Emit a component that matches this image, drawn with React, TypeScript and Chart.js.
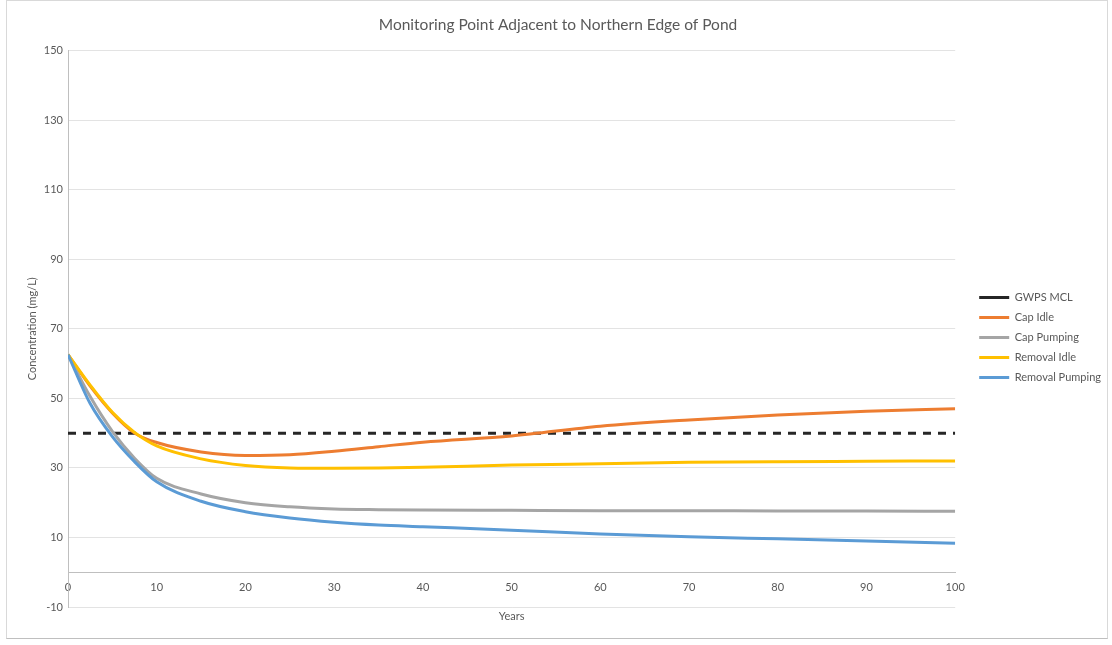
import React, { useEffect, useRef } from "react";
import { Chart, registerables } from "chart.js";

Chart.register(...registerables);

const chartTitle = "Monitoring Point Adjacent to Northern Edge of Pond";
const xTitle = "Years";
const yTitle = "Concentration (mg/L)";

const years = [0, 2.5, 5, 7.5, 10, 15, 20, 25, 30, 35, 40, 50, 60, 70, 80, 90, 100];
const capIdle = [62.6, 53.5, 45.8, 40.0, 37.3, 34.6, 33.6, 33.8, 34.8, 36.1, 37.4, 39.2, 42.0, 43.8, 45.2, 46.3, 47.0];
const capPumping = [62.6, 50.5, 40.5, 32.8, 27.0, 22.5, 20.0, 18.8, 18.2, 18.0, 17.9, 17.8, 17.7, 17.7, 17.6, 17.6, 17.5];
const removalIdle = [62.6, 53.8, 46.0, 40.2, 36.3, 32.6, 30.7, 30.0, 29.9, 30.0, 30.2, 30.8, 31.2, 31.6, 31.8, 31.9, 32.0];
const removalPumping = [62.6, 48.5, 39.0, 31.8, 26.0, 20.4, 17.4, 15.6, 14.4, 13.6, 13.1, 12.1, 11.0, 10.2, 9.6, 9.0, 8.3];
const mclYears = [0, 100];
const mclValues = [40, 40];

const seriesNames = ["GWPS MCL", "Cap Idle", "Cap Pumping", "Removal Idle", "Removal Pumping"];
const seriesColors = ["#262626", "#ED7D31", "#A5A5A5", "#FFC000", "#5B9BD5"];

const toPoints = (xs: number[], ys: number[]) => xs.map((x, i) => ({ x, y: ys[i] }));

const legendShift = {
  id: "legendShift",
  afterLayout(chart: any) {
    const l = chart.legend;
    if (l) {
      l.left += 15;
      l.right += 15;
      l.top += 30;
      l.bottom += 30;
    }
  },
};

export default function App() {
  const ref = useRef<HTMLCanvasElement | null>(null);

  useEffect(() => {
    document.body.style.margin = "0";
    const canvas = ref.current;
    if (!canvas) return;
    const font = "Lato, 'Open Sans', sans-serif";
    const lineSeries = [capIdle, capPumping, removalIdle, removalPumping];
    const datasets: any[] = [
      {
        label: seriesNames[0],
        data: toPoints(mclYears, mclValues),
        borderColor: seriesColors[0],
        backgroundColor: seriesColors[0],
        borderWidth: 3,
        borderDash: [8, 7],
        pointRadius: 0,
        order: 5,
      },
      ...lineSeries.map((vals, i) => ({
        label: seriesNames[i + 1],
        data: toPoints(years, vals),
        borderColor: seriesColors[i + 1],
        backgroundColor: seriesColors[i + 1],
        borderWidth: 3,
        pointRadius: 0,
        cubicInterpolationMode: "monotone",
        order: 4 - i,
      })),
    ];

    const chart = new Chart(canvas, {
      type: "line",
      data: { datasets },
      plugins: [legendShift],
      options: {
        animation: false,
        responsive: false,
        layout: { padding: { left: 20, right: 16, top: 8, bottom: 38 } },
        plugins: {
          title: {
            display: true,
            text: chartTitle,
            color: "#595959",
            font: { family: font, size: 15.5, weight: "normal" },
            padding: { top: 8, bottom: 16 },
          },
          legend: {
            display: true,
            position: "right",
            labels: {
              usePointStyle: true,
              pointStyle: "line",
              pointStyleWidth: 30,
              boxHeight: 11,
              padding: 9,
              color: "#595959",
              font: { family: font, size: 11 },
              sort: (a: any, b: any) => a.datasetIndex - b.datasetIndex,
            },
          },
          tooltip: { enabled: false },
        },
        scales: {
          x: {
            type: "linear",
            position: { y: 0 } as any,
            min: 0,
            max: 100,
            grid: { display: false },
            border: { display: true, color: "#BFBFBF", width: 1 },
            ticks: {
              stepSize: 10,
              padding: 1,
              color: "#595959",
              font: { family: font, size: 11 },
              maxRotation: 0,
            },
            title: {
              display: true,
              text: xTitle,
              color: "#595959",
              font: { family: font, size: 11 },
              padding: { top: 14, bottom: 3 },
            },
          },
          y: {
            type: "linear",
            min: -10,
            max: 150,
            afterFit: (s: any) => {
              s.width = 48;
            },
            grid: { color: "#E3E3E3", lineWidth: 1, drawTicks: false },
            border: { display: true, color: "#BFBFBF", width: 1 },
            ticks: {
              stepSize: 20,
              padding: 5,
              color: "#595959",
              font: { family: font, size: 11 },
            },
            title: {
              display: true,
              text: yTitle,
              color: "#595959",
              font: { family: font, size: 11 },
              padding: { top: 6, bottom: 4 },
            },
          },
        },
      } as any,
    });
    return () => chart.destroy();
  }, []);

  return (
    <div style={{ position: "relative", width: 1112, height: 645, background: "#fff" }}>
      <div
        style={{
          position: "absolute",
          left: 6,
          top: 0,
          width: 1102,
          height: 639,
          border: "1px solid #D9D9D9",
          borderBottomColor: "#BFBFBF",
          boxSizing: "border-box",
        }}
      />
      <canvas
        ref={ref}
        width={1112}
        height={645}
        style={{ position: "absolute", left: 0, top: 0, display: "block" }}
      />
    </div>
  );
}
